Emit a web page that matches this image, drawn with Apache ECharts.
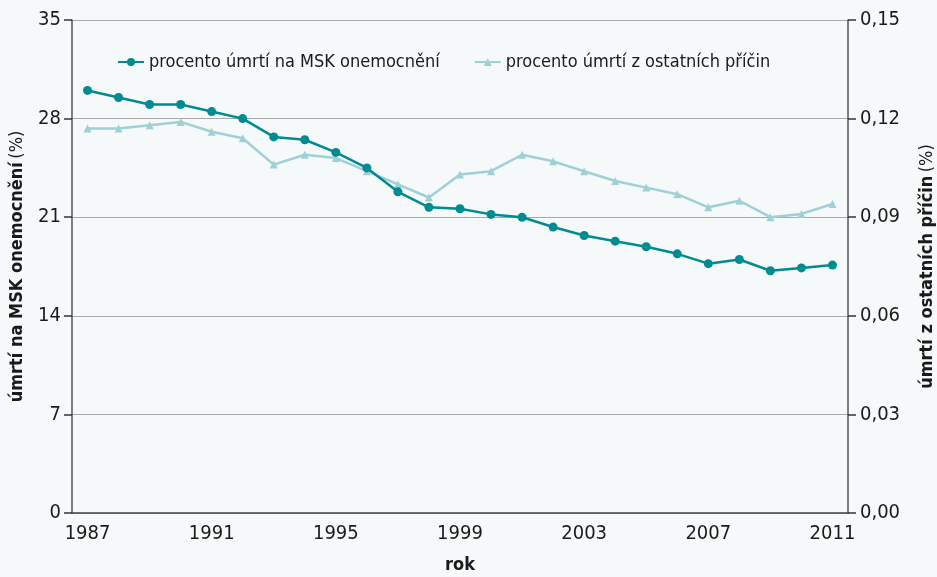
<!DOCTYPE html>
<html>
<head>
<meta charset="utf-8">
<script src="https://cdn.jsdelivr.net/npm/echarts@6/dist/echarts.min.js"></script>
<style>
  html, body { margin: 0; padding: 0; background: #f5f9f9; }
  #chart { width: 937px; height: 577px; }
</style>
</head>
<body>
<div id="chart"></div>
<script>
const years = ['1987', '1988', '1989', '1990', '1991', '1992', '1993', '1994', '1995', '1996', '1997', '1998', '1999',
  '2000', '2001', '2002', '2003', '2004', '2005', '2006', '2007', '2008', '2009', '2010', '2011']
// procento úmrtí na MSK onemocnění (left axis)
const mskData = [30.0, 29.5, 29.0, 29.0, 28.5, 28.0, 26.7, 26.5, 25.6, 24.5, 22.8, 21.7, 21.6,
  21.2, 21.0, 20.3, 19.7, 19.3, 18.9, 18.4, 17.7, 18.0, 17.2, 17.4, 17.6]
// procento úmrtí z ostatních příčin (right axis)
const otherData = [0.117, 0.117, 0.118, 0.119, 0.116, 0.114, 0.106, 0.109, 0.108, 0.104, 0.100, 0.096, 0.103,
  0.104, 0.109, 0.107, 0.104, 0.101, 0.099, 0.097, 0.093, 0.095, 0.090, 0.091, 0.094]

const font = '"DejaVu Sans Condensed", "Liberation Sans Narrow", sans-serif'
const textColor = '#1a1a1a'

const chart = echarts.init(document.getElementById('chart'))

chart.setOption({
  backgroundColor: '#f5f9f9',
  textStyle: { fontFamily: font, color: textColor },
  animation: false,
  grid: { left: 72, right: 89, top: 20, bottom: 64, outerBoundsMode: 'none' },
  legend: {
    left: 112,
    top: 48,
    itemWidth: 26,
    itemHeight: 10,
    itemGap: 34,
    textStyle: { fontFamily: font, fontSize: 18, color: textColor },
    data: ['procento úmrtí na MSK onemocnění', 'procento úmrtí z ostatních příčin']
  },
  xAxis: {
    type: 'category',
    data: years,
    boundaryGap: true,
    name: 'rok',
    nameLocation: 'middle',
    nameGap: 43,
    nameTextStyle: { fontFamily: font, fontSize: 18, fontWeight: 'bold', color: textColor },
    axisLine: { lineStyle: { color: '#444', width: 1.5 } },
    axisTick: { show: false },
    axisLabel: { interval: 3, fontSize: 20, color: textColor, margin: 11 }
  },
  yAxis: [{
    type: 'value',
    min: 0,
    max: 35,
    interval: 7,
    name: '{b|úmrtí na MSK onemocnění} {n|(%)}',
    nameLocation: 'middle',
    nameGap: 46,
    nameTextStyle: {
      rich: {
        b: { fontFamily: font, fontSize: 18, fontWeight: 'bold', color: textColor },
        n: { fontFamily: font, fontSize: 18, color: textColor }
      }
    },
    axisLine: { show: true, lineStyle: { color: '#555', width: 1.5 } },
    axisTick: { show: true, length: 8, lineStyle: { color: '#333', width: 1.5 } },
    axisLabel: { fontSize: 20, color: textColor, margin: 11 },
    splitLine: { lineStyle: { color: '#a8a8a8', width: 1.2 } }
  }, {
    type: 'value',
    min: 0,
    max: 0.15,
    interval: 0.03,
    position: 'right',
    name: '{b|úmrtí z ostatních příčin} {n|(%)}',
    nameLocation: 'middle',
    nameRotate: 90,
    nameGap: 70,
    nameTextStyle: {
      rich: {
        b: { fontFamily: font, fontSize: 18, fontWeight: 'bold', color: textColor },
        n: { fontFamily: font, fontSize: 18, color: textColor }
      }
    },
    axisLine: { show: true, lineStyle: { color: '#555', width: 1.5 } },
    axisTick: { show: true, length: 8, lineStyle: { color: '#333', width: 1.5 } },
    axisLabel: {
      fontSize: 20,
      color: textColor,
      margin: 12,
      formatter: v => v.toFixed(2).replace('.', ',')
    },
    splitLine: { show: false }
  }],
  series: [{
    name: 'procento úmrtí na MSK onemocnění',
    type: 'line',
    yAxisIndex: 0,
    data: mskData,
    symbol: 'circle',
    symbolSize: 9,
    itemStyle: { color: '#008b93' },
    lineStyle: { color: '#008b93', width: 2.5 },
    z: 3
  }, {
    name: 'procento úmrtí z ostatních příčin',
    type: 'line',
    yAxisIndex: 1,
    data: otherData,
    symbol: 'triangle',
    symbolSize: 8,
    itemStyle: { color: '#9fd0d6' },
    lineStyle: { color: '#9fd0d6', width: 2.5 },
    z: 2
  }]
})

window.addEventListener('resize', () => {
  chart.resize()
})
</script>
</body>
</html>
